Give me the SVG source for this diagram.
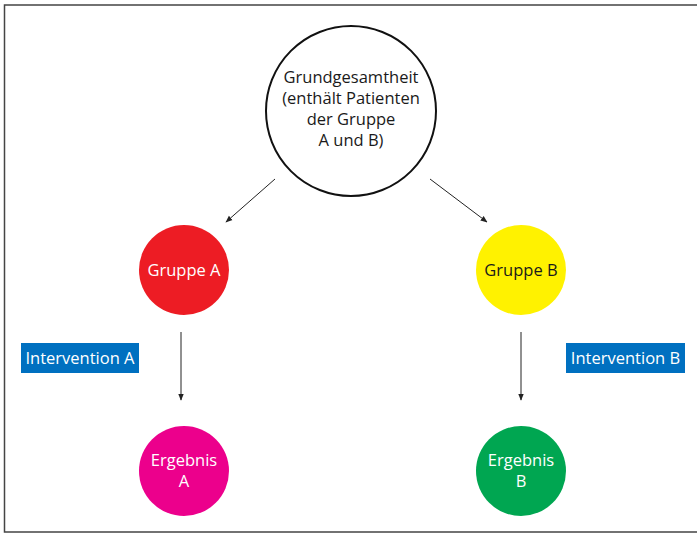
<svg xmlns="http://www.w3.org/2000/svg" width="697" height="533" viewBox="0 0 697 533">
<style>
text{font-family:"Open Sans","Noto Sans","Liberation Sans",sans-serif;font-size:16.5px;text-anchor:middle}
.w{fill:#ffffff}
.k{fill:#1a1a1a}
.conn{stroke:#222;stroke-width:1;fill:none;marker-end:url(#ah)}
</style>
<defs>
<marker id="ah" viewBox="0 0 10 10" refX="9" refY="5" markerWidth="7" markerHeight="7" orient="auto" markerUnits="userSpaceOnUse">
<path d="M0,1 L10,5 L0,9 Z" fill="#222"/>
</marker>
</defs>
<rect width="697" height="533" fill="#fff"/>
<path d="M697,5 H4.5 V532 H697" fill="none" stroke="#444" stroke-width="1.5"/>
<g id="connectors">
<line class="conn" x1="275" y1="179" x2="226" y2="222"/>
<line class="conn" x1="430" y1="179" x2="487" y2="222"/>
<line class="conn" x1="181" y1="332" x2="181" y2="400"/>
<line class="conn" x1="521" y1="332" x2="521" y2="400"/>
</g>
<g id="grundgesamtheit">
<circle cx="351" cy="111" r="85" fill="#fff" stroke="#111" stroke-width="2"/>
<text class="k" x="351" y="83">Grundgesamtheit</text>
<text class="k" x="351" y="104">(enthält Patienten</text>
<text class="k" x="351" y="125">der Gruppe</text>
<text class="k" x="351" y="146">A und B)</text>
</g>
<g id="gruppeA">
<circle cx="184" cy="270" r="45" fill="#ed1c24"/>
<text class="w" x="184" y="276">Gruppe A</text>
</g>
<g id="gruppeB">
<circle cx="521" cy="270" r="45" fill="#fff200"/>
<text class="k" x="521" y="276">Gruppe B</text>
</g>
<g id="interventionA">
<rect x="21" y="343" width="118" height="30" fill="#0070c0"/>
<text class="w" x="80" y="364">Intervention A</text>
</g>
<g id="interventionB">
<rect x="566" y="343" width="119" height="30" fill="#0070c0"/>
<text class="w" x="625.5" y="364">Intervention B</text>
</g>
<g id="ergebnisA">
<circle cx="184" cy="471" r="45" fill="#ec008c"/>
<text class="w" x="184" y="466">Ergebnis</text>
<text class="w" x="184" y="487">A</text>
</g>
<g id="ergebnisB">
<circle cx="521" cy="471" r="45" fill="#00a651"/>
<text class="w" x="521" y="466">Ergebnis</text>
<text class="w" x="521" y="487">B</text>
</g>
</svg>
